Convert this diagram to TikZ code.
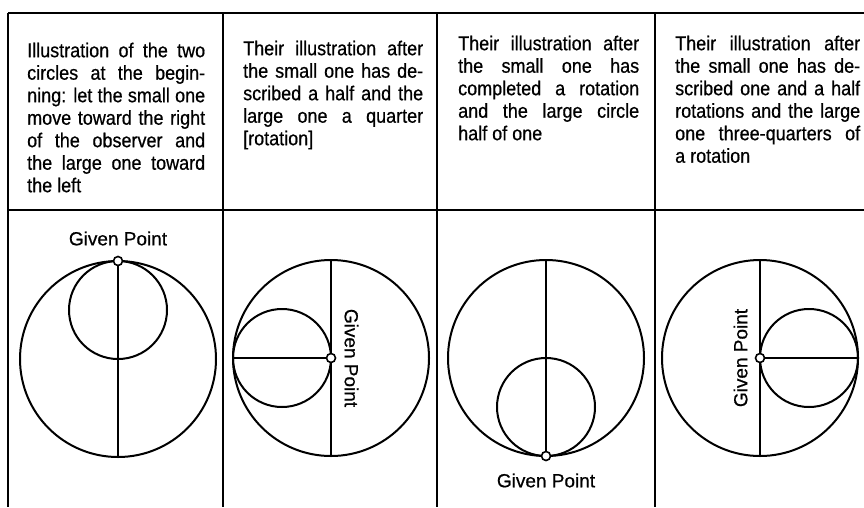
\documentclass[tikz,border=0pt]{standalone}
\usepackage{fontspec}
\newfontfamily\hdfont[FakeStretch=0.9, FakeBold=0.6]{Liberation Sans}
\newfontfamily\gpfont[FakeBold=0.6]{Liberation Sans}
\usetikzlibrary{positioning}

\newlength{\hdwidth}
\setlength{\hdwidth}{180pt}
% one justified line of a column head
\newcommand{\jl}[1]{\makebox[\hdwidth][s]{#1}}

\begin{document}
\begin{tikzpicture}[
        x=1pt, y=-1pt,
        rule/.style={line width=2.1pt},
        ring/.style={line width=2pt},
        bar/.style={line width=2pt},
        given/.style={circle, draw, fill=white, line width=1.6pt, inner sep=0pt, minimum size=9pt},
        tag/.style={font=\gpfont\fontsize{19}{22}\selectfont, inner sep=0pt},
        head/.style={anchor=north west, inner sep=0pt, align=left,
            font=\hdfont\fontsize{20}{22.5}\selectfont,
            execute at begin node={\setlength{\hdwidth}{#1}}}
    ]
        \useasboundingbox (0,0) rectangle (864,507);

        % Table
        \draw[rule] (8,13) -- (864,13);
        \draw[rule] (8,210) -- (864,210);
        \foreach \xx in {8,223,437,655}
            \draw[rule] (\xx,13) -- (\xx,507);

        % Column heads
        \node[head=178pt] (head1) at (27,42.5) {\jl{Illustration of the two}\\
            \jl{circles at the begin-}\\
            \jl{ning: let the small one}\\
            \jl{move toward the right}\\
            \jl{of the observer and}\\
            \jl{the large one toward}\\
            the left};
        \node[head=180pt] (head2) at (243,40.5) {\jl{Their illustration after}\\
            \jl{the small one has de-}\\
            \jl{scribed a half and the}\\
            \jl{large one a quarter}\\
            {[rotation]}};
        \node[head=181pt] (head3) at (458,35.5) {\jl{Their illustration after}\\
            \jl{the small one has}\\
            \jl{completed a rotation}\\
            \jl{and the large circle}\\
            half of one};
        \node[head=185pt] (head4) at (675,35.5) {\jl{Their illustration after}\\
            \jl{the small one has de-}\\
            \jl{scribed one and a half}\\
            \jl{rotations and the large}\\
            \jl{one three-quarters of}\\
            a rotation};

        % Circles
        \draw[ring] (118,359) circle (98);
        \draw[ring] (118,310) circle (49);
        \draw[ring] (331,358) circle (98);
        \draw[ring] (282,358) circle (49);
        \draw[ring] (546,358) circle (98);
        \draw[ring] (546,407) circle (49);
        \draw[ring] (760,358) circle (98);
        \draw[ring] (809,358) circle (49);

        % Ends of the diameters
        \coordinate (b1) at (118,457);
        \coordinate (t2) at (331,260);
        \coordinate (b2) at (331,456);
        \coordinate (l2) at (233,358);
        \coordinate (t3) at (546,260);
        \coordinate (t4) at (760,260);
        \coordinate (b4) at (760,456);
        \coordinate (r4) at (858,358);

        % Nodes
        \node[given] (p1) at (118,261) {};
        \node[given] (p2) at (331,358) {};
        \node[given] (p3) at (546,456) {};
        \node[given] (p4) at (760,358) {};

        \node[tag, above=10pt of p1] (g1) {Given Point};
        \node[tag, rotate=-90, right=8pt of p2, anchor=south] (g2) {Given Point};
        \node[tag, below=12pt of p3] (g3) {Given Point};
        \node[tag, rotate=90, left=7pt of p4, anchor=south] (g4) {Given Point};

        % Diameters
        \draw[bar] (p1) -- (b1);
        \draw[bar] (t2) -- (p2) -- (b2);
        \draw[bar] (l2) -- (p2);
        \draw[bar] (t3) -- (p3);
        \draw[bar] (t4) -- (p4) -- (b4);
        \draw[bar] (p4) -- (r4);

    \end{tikzpicture}
\end{document}
